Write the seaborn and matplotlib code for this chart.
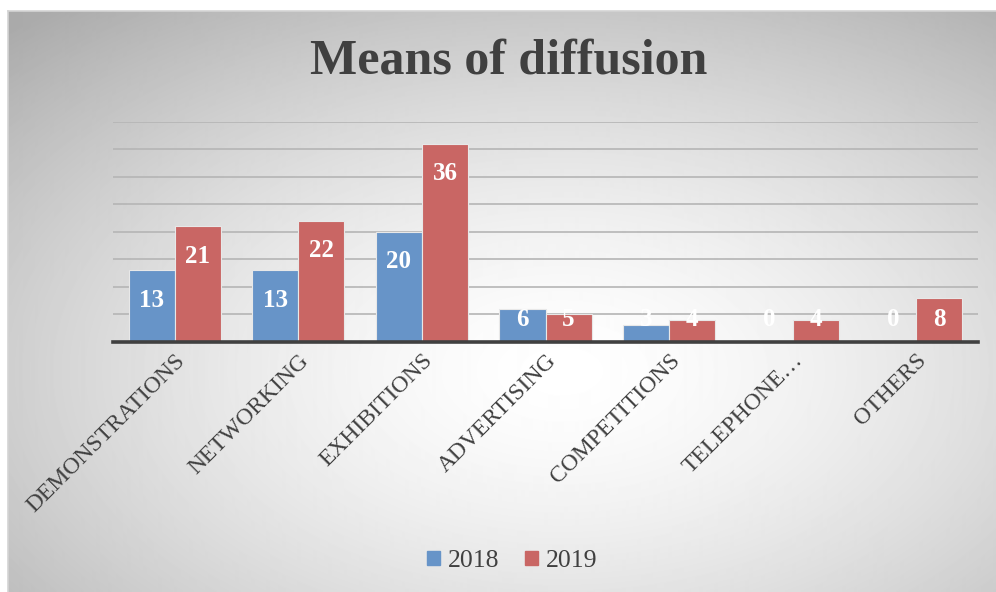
import numpy as np
import pandas as pd
import matplotlib
matplotlib.use("Agg")
import matplotlib.pyplot as plt
import seaborn as sns
from matplotlib.patches import Patch

categories = ["DEMONSTRATIONS", "NETWORKING", "EXHIBITIONS", "ADVERTISING",
              "COMPETITIONS", "TELEPHONE…", "OTHERS"]
years = ["2018", "2019"]
values_2018 = [13, 13, 20, 6, 3, 0, 0]
values_2019 = [21, 22, 36, 5, 4, 4, 8]

blue = "#6794C8"
red = "#C96664"

df = pd.DataFrame({
    "category": categories * 2,
    "year": [years[0]] * len(categories) + [years[1]] * len(categories),
    "value": values_2018 + values_2019,
})

sns.set_theme(style="white")
plt.rcParams["font.family"] = ["Liberation Serif", "DejaVu Serif"]

W, H = 996, 592
fig = plt.figure(figsize=(W / 100, H / 100), dpi=100, facecolor="white")

# background gradient frame
fx0, fy_top = 8, 11
bg = fig.add_axes([fx0 / W, 0, (W - fx0) / W, (H - fy_top) / H])
bw, bh = W - fx0, H - fy_top
xx, yy = np.meshgrid(np.arange(bw), np.arange(bh))
cx, cy = 0.56 * bw, 0.62 * bh
r = np.sqrt(((xx - cx) / (bw / 2)) ** 2 + ((yy - cy) / (bh / 2)) ** 2) / np.sqrt(2)
val = 1 - 0.25 * np.clip(r / 0.95, 0, 1.2) ** 1.5
bg.imshow(val, cmap="gray", vmin=0, vmax=1, aspect="auto", interpolation="bilinear")
bg.set_xticks([]); bg.set_yticks([])
for side in ["right", "bottom"]:
    bg.spines[side].set_visible(False)
for side in ["top", "left"]:
    bg.spines[side].set_color("#D4D4D4")
    bg.spines[side].set_linewidth(1.2)

left, right = 113 / W, 978 / W
top, bottom = 1 - 121.7 / H, 1 - 341.7 / H
ax = fig.add_axes([left, bottom, right - left, top - bottom])
ax.set_facecolor("none")

sns.barplot(data=df, x="category", y="value", hue="year", palette=[blue, red],
            width=0.745, edgecolor="#E8E8E8", linewidth=0.8, ax=ax,
            legend=False, zorder=3, saturation=1)

ax.set_ylim(0, 40)
ax.set_xlim(-0.5, len(categories) - 0.5)
ax.set_yticks(np.arange(0, 41, 5))
ax.set_yticklabels([])
ax.tick_params(axis="y", length=0)
ax.tick_params(axis="x", length=0, pad=6)
ax.yaxis.grid(True, color="#B5B5B5", linewidth=1.2, zorder=0)
ax.set_axisbelow(True)
for side in ["top", "right", "left"]:
    ax.spines[side].set_visible(False)
ax.spines["bottom"].set_color("#404040")
ax.spines["bottom"].set_linewidth(2.6)
ax.spines["bottom"].set_zorder(5)
ax.set_xlabel("")
ax.set_ylabel("")
ax.set_xticks(range(len(categories)))
ax.set_xticklabels(categories, rotation=45, ha="right", rotation_mode="anchor",
                   fontsize=17, color="#404040")

for cont in ax.containers:
    for bar in cont:
        v = bar.get_height()
        x = bar.get_x() + bar.get_width() / 2
        y = max(v - 5.0, 4.4)
        ax.text(x, y, f"{int(round(v))}", ha="center", va="center_baseline",
                color="white", fontsize=18, fontweight="bold", zorder=6)

fig.text(509 / W, 1 - 61 / H, "Means of diffusion", ha="center", va="center",
         fontsize=36, fontweight="bold", color="#404040")

handles = [Patch(facecolor=blue, edgecolor=blue), Patch(facecolor=red, edgecolor=red)]
fig.legend(handles, years, loc="center", bbox_to_anchor=(512 / W, 1 - 561 / H),
           ncol=2, frameon=False, fontsize=18.5, handlelength=0.5, handleheight=0.5,
           handletextpad=0.3, columnspacing=1.0, labelcolor="#404040")

fig.savefig("out.png", dpi=100, facecolor="white")
